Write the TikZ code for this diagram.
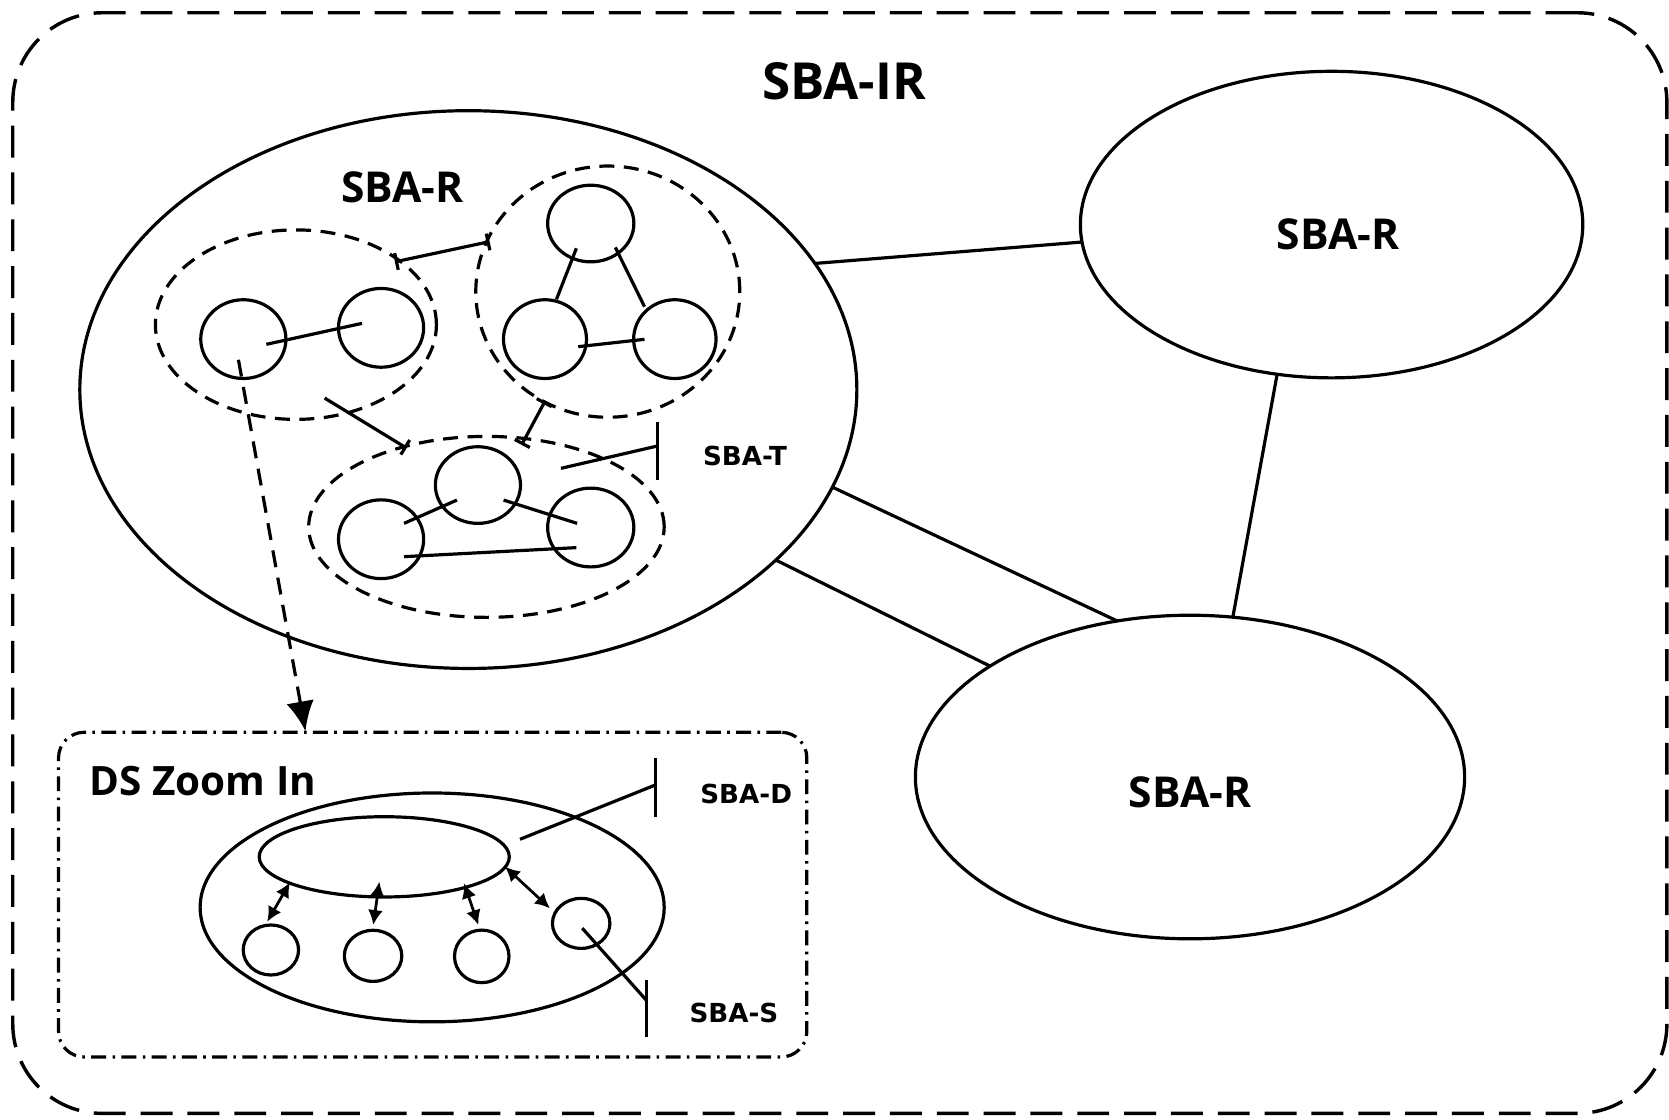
\documentclass[tikz,border=0pt]{standalone}
\usepackage{fontspec}
\setmainfont{Open Sans}
\newfontfamily\labfont{DejaVu Sans}
\usetikzlibrary{shapes.geometric,arrows.meta}

\begin{document}
\begin{tikzpicture}[x=0.5pt,y=-0.5pt,line width=1.5pt,
  ring/.style={ellipse,draw,inner sep=0pt,outer sep=0pt},
  wh/.style 2 args={minimum width=#1pt,minimum height=#2pt},
  grp/.style={ring,dash pattern=on 7pt off 4.5pt},
  bigtxt/.style={font=\fontsize{20}{20}\selectfont\bfseries},
  smalltxt/.style={font=\labfont\fontsize{12.3}{12.3}\selectfont\bfseries},
  barlink/.style={{Bar[width=8pt]}-{Bar[width=8pt]}},
  dblarrow/.style={line width=1.3pt,{Latex[length=7pt,width=7pt]}-{Latex[length=7pt,width=7pt]}}]

\useasboundingbox (0,0) rectangle (1568,1052);

% outer frame and title
\node[draw,line width=1.6pt,rounded corners=42pt,dash pattern=on 15pt off 7pt,inner sep=0pt,outer sep=0pt,
      minimum width=777pt,minimum height=517pt] (frame) at (789,529) {};
\node[font=\fontsize{24}{24}\selectfont\bfseries] (title) at (793,76) {SBA-IR};

% regions
\node[ring,wh={365}{262}] (bigR) at (440,366) {};
\node[ring,wh={236}{144}] (trR) at (1251,211) {};
\node[ring,wh={258}{152}] (brR) at (1118,730) {};
\node[bigtxt] (lblR1) at (378,176) {SBA-R};
\node[bigtxt] (lblR2) at (1257,220) {SBA-R};
\node[bigtxt] (lblR3) at (1118,744) {SBA-R};

% links between regions
\draw (bigR.20.7) -- (trR.184.6);
\draw (trR.-110) -- (brR.75);
\draw (bigR.-15.4) -- (brR.115.6);
\draw (bigR.-29.6) -- (brR.151.3);

% group A
\node[grp,wh={132}{89}] (grpA) at (278,305) {};
\node[ring,wh={40}{37}] (A1) at (228.6,318.6) {};
\node[ring,wh={40}{37}] (A2) at (358,308) {};
\draw ([shift={(21.6,4.9)}]A1.center) -- ([shift={(-17.9,-4.2)}]A2.center);

% group B
\node[grp,wh={124}{118}] (grpB) at (571,274) {};
\node[ring,wh={40.5}{36}] (B1) at (555,210) {};
\node[ring,wh={39}{37}] (B2) at (512,318.6) {};
\node[ring,wh={38.7}{37}] (B3) at (634,318.6) {};
\draw ([shift={(-13.5,23.3)}]B1.center) -- ([shift={(10.8,-37.4)}]B2.center);
\draw ([shift={(23.1,22.4)}]B1.center) -- ([shift={(-28.5,-30.5)}]B3.center);
\draw ([shift={(31.2,7.1)}]B2.center) -- ([shift={(-28.5,0.2)}]B3.center);

% group C
\node[grp,wh={167}{85}] (grpC) at (457,495) {};
\node[ring,wh={40}{36}] (C1) at (449,455.7) {};
\node[ring,wh={40}{37}] (C2) at (358,506.6) {};
\node[ring,wh={40.5}{37}] (C3) at (555,495.6) {};
\draw ([shift={(-19.7,14.1)}]C1.center) -- ([shift={(21.6,-14.9)}]C2.center);
\draw ([shift={(24.1,14.1)}]C1.center) -- ([shift={(-12.8,-3.9)}]C3.center);
\draw ([shift={(21.6,16.4)}]C2.center) -- ([shift={(-13.5,18.9)}]C3.center);

% links between groups
\coordinate (abS) at (371,246);  \coordinate (abE) at (460,227);
\coordinate (acS) at (305,374);  \coordinate (acE) at (382,421);
\coordinate (bcS) at (512,377);  \coordinate (bcE) at (490,418);
\draw[barlink] (abS) -- (abE);
\draw[-{Bar[width=8pt]}] (acS) -- (acE);
\draw[barlink] (bcS) -- (bcE);

% SBA-T marker
\coordinate (tS) at (527,440);  \coordinate (tE) at (617.7,419);
\coordinate (tTop) at (617.7,396);  \coordinate (tBot) at (617.7,451);
\draw (tS) -- (tE);
\draw (tTop) -- (tBot);
\node[smalltxt] (lblT) at (700,428) {SBA-T};

% zoomed view of one DS
\node[draw,rounded corners=12pt,dash pattern=on 7pt off 3pt on 1.2pt off 3pt,inner sep=0pt,outer sep=0pt,
      minimum width=351.5pt,minimum height=152.5pt] (dsbox) at (406.5,840.5) {};
\coordinate (dsTip) at (287,687);
\draw[dash pattern=on 8pt off 5pt,-{Latex[length=14pt,width=13pt]}] ([shift={(-4.6,19.4)}]A1.center) -- (dsTip);
\node[font=\fontsize{19}{19}\selectfont\bfseries,anchor=west] (lblDS) at (76,734) {DS Zoom In};

\node[ring,wh={218}{107.5}] (dsOuter) at (406,852.5) {};
\node[ring,wh={117.5}{37.7}] (dsTop) at (361,805) {};
\node[ring,wh={26}{23.5}] (D1) at (254.5,892.5) {};
\node[ring,wh={27}{24}] (D2) at (350.5,898) {};
\node[ring,wh={25.6}{24.7}] (D3) at (452.6,898.5) {};
\node[ring,wh={27}{23.5}] (D4) at (546,867.5) {};

\coordinate (d1a) at (272.4,829); \coordinate (d1b) at (251,866);
\coordinate (d2a) at (356.4,828.3); \coordinate (d2b) at (350.7,869);
\coordinate (d3a) at (436,829.9); \coordinate (d3b) at (449.4,869);
\coordinate (d4a) at (474.4,814.2); \coordinate (d4b) at (516.7,853.4);
\draw[dblarrow] (d1a) -- (d1b);
\draw[dblarrow] (d2a) -- (d2b);
\draw[dblarrow] (d3a) -- (d3b);
\draw[dblarrow] (d4a) -- (d4b);

% SBA-D marker
\coordinate (dS) at (488.5,788.5); \coordinate (dE) at (615.7,737.5);
\coordinate (dTop) at (615.7,712.4); \coordinate (dBot) at (615.7,767.3);
\draw (dS) -- (dE);
\draw (dTop) -- (dBot);
\node[smalltxt] (lblD) at (701,746) {SBA-D};

% SBA-S marker
\coordinate (sE) at (607,939.5);
\coordinate (sTop) at (607,920.7); \coordinate (sBot) at (607,974);
\draw ([shift={(1,4.5)}]D4.center) -- (sE);
\draw (sTop) -- (sBot);
\node[smalltxt] (lblS) at (689.5,952) {SBA-S};

\end{tikzpicture}
\end{document}
